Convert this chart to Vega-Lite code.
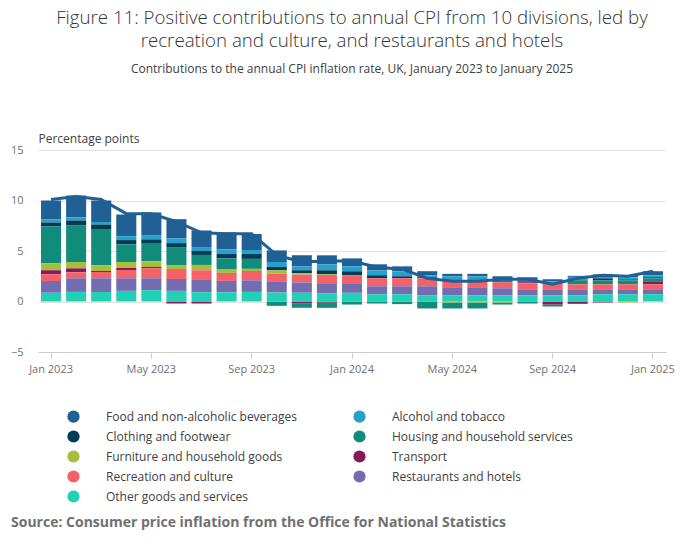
{
  "$schema": "https://vega.github.io/schema/vega-lite/v6.json",
  "background": "white",
  "padding": {"left": 10, "right": 10, "top": 9, "bottom": 12},
  "width": 628,
  "height": 202,
  "title": {
    "text": ["Figure 11: Positive contributions to annual CPI from 10 divisions, led by", "recreation and culture, and restaurants and hotels"],
    "subtitle": "Contributions to the annual CPI inflation rate, UK, January 2023 to January 2025",
    "font": "Open Sans", "fontSize": 18.7, "fontWeight": 300, "color": "#333333", "lineHeight": 23,
    "subtitleFont": "Open Sans", "subtitleFontSize": 12, "subtitleColor": "#414042", "subtitlePadding": 13,
    "anchor": "middle", "offset": 57
  },
  "datasets": {
    "contributions": [
      {"month": "Jan 2023", "CPI": 10.1, "Food and non-alcoholic beverages": 1.87, "Alcohol and tobacco": 0.30, "Clothing and footwear": 0.39, "Housing and household services": 3.65, "Furniture and household goods": 0.69, "Transport": 0.39, "Recreation and culture": 0.66, "Restaurants and hotels": 1.18, "Other goods and services": 0.86},
      {"month": "Feb 2023", "CPI": 10.4, "Food and non-alcoholic beverages": 2.17, "Alcohol and tobacco": 0.30, "Clothing and footwear": 0.46, "Housing and household services": 3.65, "Furniture and household goods": 0.63, "Transport": 0.39, "Recreation and culture": 0.59, "Restaurants and hotels": 1.35, "Other goods and services": 0.95},
      {"month": "Mar 2023", "CPI": 10.1, "Food and non-alcoholic beverages": 2.14, "Alcohol and tobacco": 0.23, "Clothing and footwear": 0.46, "Housing and household services": 3.59, "Furniture and household goods": 0.56, "Transport": 0.10, "Recreation and culture": 0.62, "Restaurants and hotels": 1.35, "Other goods and services": 0.95},
      {"month": "Apr 2023", "CPI": 8.7, "Food and non-alcoholic beverages": 2.14, "Alcohol and tobacco": 0.39, "Clothing and footwear": 0.43, "Housing and household services": 1.74, "Furniture and household goods": 0.59, "Transport": 0.20, "Recreation and culture": 0.82, "Restaurants and hotels": 1.25, "Other goods and services": 1.05},
      {"month": "May 2023", "CPI": 8.7, "Food and non-alcoholic beverages": 2.24, "Alcohol and tobacco": 0.43, "Clothing and footwear": 0.36, "Housing and household services": 1.81, "Furniture and household goods": 0.56, "Transport": 0.13, "Recreation and culture": 0.99, "Restaurants and hotels": 1.18, "Other goods and services": 1.12},
      {"month": "Jun 2023", "CPI": 7.9, "Food and non-alcoholic beverages": 1.91, "Alcohol and tobacco": 0.46, "Clothing and footwear": 0.39, "Housing and household services": 1.78, "Furniture and household goods": 0.39, "Transport": -0.20, "Recreation and culture": 0.99, "Restaurants and hotels": 1.18, "Other goods and services": 1.05},
      {"month": "Jul 2023", "CPI": 6.8, "Food and non-alcoholic beverages": 1.64, "Alcohol and tobacco": 0.39, "Clothing and footwear": 0.39, "Housing and household services": 0.99, "Furniture and household goods": 0.53, "Transport": -0.20, "Recreation and culture": 0.89, "Restaurants and hotels": 1.28, "Other goods and services": 0.92},
      {"month": "Aug 2023", "CPI": 6.7, "Food and non-alcoholic beverages": 1.68, "Alcohol and tobacco": 0.46, "Clothing and footwear": 0.43, "Housing and household services": 1.05, "Furniture and household goods": 0.39, "Transport": 0.00, "Recreation and culture": 0.79, "Restaurants and hotels": 1.12, "Other goods and services": 0.92},
      {"month": "Sep 2023", "CPI": 6.7, "Food and non-alcoholic beverages": 1.58, "Alcohol and tobacco": 0.39, "Clothing and footwear": 0.49, "Housing and household services": 0.99, "Furniture and household goods": 0.26, "Transport": 0.05, "Recreation and culture": 0.82, "Restaurants and hotels": 1.15, "Other goods and services": 0.95},
      {"month": "Oct 2023", "CPI": 4.6, "Food and non-alcoholic beverages": 1.15, "Alcohol and tobacco": 0.49, "Clothing and footwear": 0.33, "Housing and household services": -0.43, "Furniture and household goods": 0.33, "Transport": 0.00, "Recreation and culture": 0.82, "Restaurants and hotels": 1.05, "Other goods and services": 0.89},
      {"month": "Nov 2023", "CPI": 3.9, "Food and non-alcoholic beverages": 1.09, "Alcohol and tobacco": 0.39, "Clothing and footwear": 0.30, "Housing and household services": -0.43, "Furniture and household goods": 0.16, "Transport": -0.20, "Recreation and culture": 0.76, "Restaurants and hotels": 1.02, "Other goods and services": 0.86},
      {"month": "Dec 2023", "CPI": 4.0, "Food and non-alcoholic beverages": 0.89, "Alcohol and tobacco": 0.59, "Clothing and footwear": 0.39, "Housing and household services": -0.53, "Furniture and household goods": 0.07, "Transport": -0.10, "Recreation and culture": 0.82, "Restaurants and hotels": 0.99, "Other goods and services": 0.82},
      {"month": "Jan 2024", "CPI": 4.0, "Food and non-alcoholic beverages": 0.79, "Alcohol and tobacco": 0.49, "Clothing and footwear": 0.39, "Housing and household services": -0.30, "Furniture and household goods": 0.00, "Transport": 0.00, "Recreation and culture": 0.79, "Restaurants and hotels": 0.95, "Other goods and services": 0.86},
      {"month": "Feb 2024", "CPI": 3.4, "Food and non-alcoholic beverages": 0.59, "Alcohol and tobacco": 0.49, "Clothing and footwear": 0.30, "Housing and household services": -0.20, "Furniture and household goods": 0.00, "Transport": 0.00, "Recreation and culture": 0.79, "Restaurants and hotels": 0.79, "Other goods and services": 0.72},
      {"month": "Mar 2024", "CPI": 3.2, "Food and non-alcoholic beverages": 0.49, "Alcohol and tobacco": 0.49, "Clothing and footwear": 0.20, "Housing and household services": -0.26, "Furniture and household goods": 0.00, "Transport": 0.00, "Recreation and culture": 0.79, "Restaurants and hotels": 0.79, "Other goods and services": 0.72},
      {"month": "Apr 2024", "CPI": 2.3, "Food and non-alcoholic beverages": 0.40, "Alcohol and tobacco": 0.20, "Clothing and footwear": 0.10, "Housing and household services": -0.69, "Furniture and household goods": 0.00, "Transport": 0.00, "Recreation and culture": 0.79, "Restaurants and hotels": 0.89, "Other goods and services": 0.62},
      {"month": "May 2024", "CPI": 2.0, "Food and non-alcoholic beverages": 0.26, "Alcohol and tobacco": 0.43, "Clothing and footwear": 0.05, "Housing and household services": -0.59, "Furniture and household goods": -0.10, "Transport": 0.00, "Recreation and culture": 0.59, "Restaurants and hotels": 0.79, "Other goods and services": 0.62},
      {"month": "Jun 2024", "CPI": 2.0, "Food and non-alcoholic beverages": 0.26, "Alcohol and tobacco": 0.43, "Clothing and footwear": 0.05, "Housing and household services": -0.59, "Furniture and household goods": -0.10, "Transport": 0.00, "Recreation and culture": 0.59, "Restaurants and hotels": 0.79, "Other goods and services": 0.62},
      {"month": "Jul 2024", "CPI": 2.2, "Food and non-alcoholic beverages": 0.30, "Alcohol and tobacco": 0.20, "Clothing and footwear": 0.10, "Housing and household services": -0.20, "Furniture and household goods": -0.10, "Transport": 0.00, "Recreation and culture": 0.59, "Restaurants and hotels": 0.69, "Other goods and services": 0.62},
      {"month": "Aug 2024", "CPI": 2.2, "Food and non-alcoholic beverages": 0.25, "Alcohol and tobacco": 0.15, "Clothing and footwear": 0.10, "Housing and household services": -0.20, "Furniture and household goods": 0.00, "Transport": 0.10, "Recreation and culture": 0.59, "Restaurants and hotels": 0.59, "Other goods and services": 0.62},
      {"month": "Sep 2024", "CPI": 1.7, "Food and non-alcoholic beverages": 0.20, "Alcohol and tobacco": 0.15, "Clothing and footwear": 0.05, "Housing and household services": -0.20, "Furniture and household goods": 0.00, "Transport": -0.30, "Recreation and culture": 0.59, "Restaurants and hotels": 0.59, "Other goods and services": 0.62},
      {"month": "Oct 2024", "CPI": 2.3, "Food and non-alcoholic beverages": 0.10, "Alcohol and tobacco": 0.30, "Clothing and footwear": 0.05, "Housing and household services": 0.39, "Furniture and household goods": 0.00, "Transport": -0.23, "Recreation and culture": 0.49, "Restaurants and hotels": 0.59, "Other goods and services": 0.62},
      {"month": "Nov 2024", "CPI": 2.6, "Food and non-alcoholic beverages": 0.20, "Alcohol and tobacco": 0.20, "Clothing and footwear": 0.20, "Housing and household services": 0.39, "Furniture and household goods": 0.00, "Transport": -0.10, "Recreation and culture": 0.49, "Restaurants and hotels": 0.49, "Other goods and services": 0.72},
      {"month": "Dec 2024", "CPI": 2.5, "Food and non-alcoholic beverages": 0.20, "Alcohol and tobacco": 0.20, "Clothing and footwear": 0.10, "Housing and household services": 0.39, "Furniture and household goods": -0.10, "Transport": 0.00, "Recreation and culture": 0.49, "Restaurants and hotels": 0.49, "Other goods and services": 0.72},
      {"month": "Jan 2025", "CPI": 3.0, "Food and non-alcoholic beverages": 0.40, "Alcohol and tobacco": 0.20, "Clothing and footwear": 0.10, "Housing and household services": 0.30, "Furniture and household goods": 0.00, "Transport": 0.30, "Recreation and culture": 0.49, "Restaurants and hotels": 0.49, "Other goods and services": 0.72}
    ]
  },
  "data": {"name": "contributions"},
  "encoding": {
    "x": {
      "field": "month", "type": "ordinal", "title": null,
      "scale": {
        "domain": ["Jan 2023", "Feb 2023", "Mar 2023", "Apr 2023", "May 2023", "Jun 2023", "Jul 2023", "Aug 2023", "Sep 2023", "Oct 2023", "Nov 2023", "Dec 2023", "Jan 2024", "Feb 2024", "Mar 2024", "Apr 2024", "May 2024", "Jun 2024", "Jul 2024", "Aug 2024", "Sep 2024", "Oct 2024", "Nov 2024", "Dec 2024", "Jan 2025"],
        "paddingInner": 0.2, "paddingOuter": 0.12
      },
      "axis": {"values": ["Jan 2023", "May 2023", "Sep 2023", "Jan 2024", "May 2024", "Sep 2024", "Jan 2025"], "labelAngle": 0}
    }
  },
  "layer": [
    {
      "transform": [
        {"fold": ["Food and non-alcoholic beverages", "Alcohol and tobacco", "Clothing and footwear", "Housing and household services", "Furniture and household goods", "Transport", "Recreation and culture", "Restaurants and hotels", "Other goods and services"], "as": ["division", "value"]},
        {"calculate": "indexof(['Other goods and services', 'Restaurants and hotels', 'Recreation and culture', 'Transport', 'Furniture and household goods', 'Housing and household services', 'Clothing and footwear', 'Alcohol and tobacco', 'Food and non-alcoholic beverages'], datum.division)", "as": "stackorder"}
      ],
      "mark": {"type": "bar"},
      "encoding": {
        "y": {
          "field": "value", "type": "quantitative", "stack": "zero",
          "scale": {"domain": [-5, 15], "nice": false},
          "axis": {"title": "Percentage points", "values": [-5, 0, 5, 10, 15], "titleX": 0, "titleY": -8}
        },
        "color": {
          "field": "division", "type": "nominal",
          "scale": {
            "domain": ["Food and non-alcoholic beverages", "Alcohol and tobacco", "Clothing and footwear", "Housing and household services", "Furniture and household goods", "Transport", "Recreation and culture", "Restaurants and hotels", "Other goods and services"],
            "range": ["#206095", "#27a0cc", "#003c57", "#118c7b", "#a8bd3a", "#871a5b", "#f66068", "#746cb1", "#22d0b6"]
          },
          "legend": {
            "title": "Source: Consumer price inflation from the Office for National Statistics",
            "titleOrient": "bottom", "titleAnchor": "start", "titleAlign": "left", "titlePadding": 13, "titleLimit": 680,
            "titleFont": "Open Sans", "titleFontSize": 14, "titleFontWeight": "bold", "titleColor": "#707071",
            "orient": "none", "legendX": -27, "legendY": 260,
            "direction": "horizontal", "columns": 2, "columnPadding": 0, "rowPadding": 7,
            "symbolType": "circle", "symbolSize": 150, "symbolStrokeWidth": 0, "symbolOffset": 56,
            "labelOffset": 26, "labelLimit": 300, "labelFontSize": 12, "labelColor": "#414042", "labelFont": "Open Sans"
          }
        },
        "order": {"field": "stackorder", "type": "quantitative"}
      }
    },
    {
      "mark": {"type": "line", "color": "#206095", "strokeWidth": 3},
      "encoding": {
        "y": {"field": "CPI", "type": "quantitative", "axis": {"title": "Percentage points", "values": [-5, 0, 5, 10, 15], "titleX": 0, "titleY": -8}}
      }
    }
  ],
  "config": {
    "font": "Open Sans",
    "view": {"stroke": null},
    "axis": {"labelFont": "Open Sans", "labelFontSize": 11, "labelColor": "#707071", "titleFont": "Open Sans"},
    "axisY": {
      "grid": true, "gridColor": "#e2e2e2", "domain": false, "ticks": false, "labelPadding": 15,
      "titleAngle": 0, "titleAlign": "left", "titleBaseline": "alphabetic",
      "titleFontSize": 12, "titleFontWeight": "normal", "titleColor": "#414042"
    },
    "axisX": {"grid": false, "domainColor": "#cccccc", "tickColor": "#cccccc", "tickSize": 6, "labelPadding": 5}
  }
}
